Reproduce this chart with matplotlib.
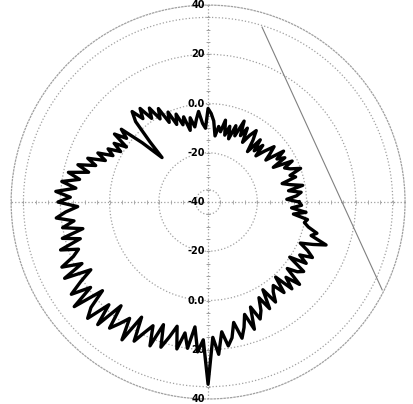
import numpy as np
import matplotlib.pyplot as plt
from matplotlib.transforms import offset_copy

# angle in degrees (2 deg steps), level in dB
angles_deg = np.arange(0, 360, 2)
level_db = [
    -3, -8, -4, -2, -7,      # 0
    -1, -6, -9, -3, -5,      # 10
    0, -4, -6, -2, -10,      # 20
    -4, -7, -3, -11, -8,     # 30
    -5, -9, -13, -8, -12,    # 40
    -7, -14, -9, -5, -8,     # 50
    -12, -6, -10, -4, -11,   # 60
    -7, -13, -8, -12, -6,    # 70
    -11, -9, -13, -7, -4,    # 80
    -2, -10, -8, -3, -6,     # 90
    -9, -5, -10, -4, -7,     # 100
    -2, -6, 0, -4, 3,        # 110
    -1, 5, 1, 7, 3,          # 120
    8, 4, -6, -14, -4,       # 130
    6, 2, 7, 0, 5,           # 140
    1, 6, 3, 9, 5,           # 150
    12, 8, 15, 10, 18,       # 160
    13, 20, 14, 22, 16,      # 170
    21, 13, 18, 22, 15,      # 180
    20, 12, 21, 14, 23,      # 190
    16, 19, 25, 17, 26,      # 200
    15, 21, 27, 19, 29,      # 210
    16, 24, 28, 18, 27,      # 220
    15, 25, 21, 17, 26,      # 230
    14, 24, 19, 15, 23,      # 240
    13, 22, 17, 12, 21,      # 250
    14, 20, 11, 21, 16,      # 260
    34, 15, 22, 13, 19,      # 270
    16, 10, 17, 13, 8,       # 280
    15, 6, 12, 9, 4,         # 290
    10, 2, 9, 5, 3,          # 300
    8, 1, 9, 4, 10,          # 310
    2, 6, 8, 0, 7,           # 320
    3, 8, 5, 1, 6,           # 330
    11, 4, 6, 2, 0,          # 340
    1, -5, 0, -6, -2,        # 350
]

ring_levels = [-35, -20, 0, 20, 35]
upper_labels = [(40, '40'), (20, '20'), (0, '0.0'), (-20, '-20')]
lower_labels = [(-20, '-20'), (0, '0.0'), (20, '20'), (40, '40')]
tick_levels = np.arange(-35, 41, 5)

fig = plt.figure(figsize=(4.14, 4.04), dpi=100)
ax = fig.add_axes([0.0266, 0.0124, 0.952, 0.975], projection='polar')
ax.set_ylim(-40, 40)

theta = np.deg2rad(np.append(angles_deg, angles_deg[0]))
r = np.append(level_db, level_db[0])
ax.plot(theta, r, color='black', linewidth=2.4, zorder=5)

# grid
ax.set_rgrids(ring_levels, labels=[''] * len(ring_levels))
ax.set_thetagrids([0, 90, 180, 270], labels=[''] * 4)
ax.grid(True, color='#a0a0a0', linestyle=':', linewidth=0.9)
ax.spines['polar'].set_color('#a0a0a0')
ax.spines['polar'].set_linestyle(':')
ax.spines['polar'].set_linewidth(0.9)

# tick marks along the crosshair
for ang, mk in [(0, '|'), (180, '|'), (90, '_'), (270, '_')]:
    ax.scatter(np.full(len(tick_levels), np.deg2rad(ang)), tick_levels,
               marker=mk, s=10, color='#a0a0a0', linewidths=0.6, zorder=3)

# stray straight line from the scan
ax.plot([0.637, 0.942], [0.944, 0.277], transform=ax.transAxes,
        color='#808080', linewidth=0.8, clip_on=False)

# radial labels along the vertical axis
tr = offset_copy(ax.transData, fig=fig, x=-3, y=0, units='dots')
for val, txt in upper_labels:
    ax.text(np.pi / 2, val, txt, transform=tr, ha='right', va='center',
            fontsize=7, fontweight='bold', zorder=6)
for val, txt in lower_labels:
    ax.text(3 * np.pi / 2, val, txt, transform=tr, ha='right', va='center',
            fontsize=7, fontweight='bold', zorder=6)
ax.text(0, -40, '-40', transform=tr, ha='right', va='center',
        fontsize=7, fontweight='bold', zorder=6)

fig.savefig('out.png', dpi=100)
